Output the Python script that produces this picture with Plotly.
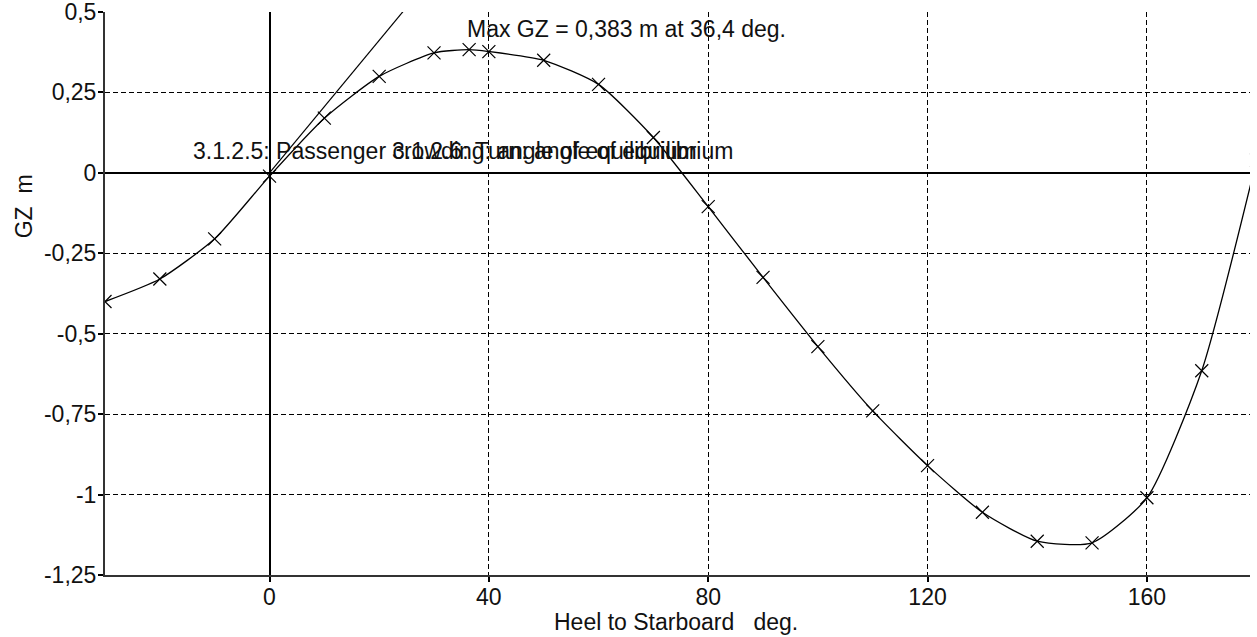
import plotly.graph_objects as go

# GZ righting-lever curve, heel to starboard
heel = [-30, -20, -10, 0, 10, 20, 30, 36.4, 40, 50, 60, 70, 80, 90, 100,
        110, 120, 130, 140, 150, 160, 170, 180]
gz = [-0.40, -0.33, -0.205, -0.01, 0.17, 0.30, 0.373, 0.383, 0.377, 0.35,
      0.275, 0.11, -0.105, -0.325, -0.54, -0.74, -0.91, -1.055, -1.145,
      -1.15, -1.01, -0.615, 0.04]

# initial GM slope line (GZ = GM * heel_rad)
gm_heel = [0, 57.3]
gm_gz = [0, 1.18]

y_ticks = [0.5, 0.25, 0, -0.25, -0.5, -0.75, -1, -1.25]
y_labels = ["0,5", "0,25", "0", "-0,25", "-0,5", "-0,75", "-1", "-1,25"]
x_ticks = [0, 40, 80, 120, 160]
x_labels = ["0", "40", "80", "120", "160"]

FONT = "Liberation Sans Narrow, Arial Narrow, Liberation Sans, Arial"
FS = 23

fig = go.Figure()
fig.add_trace(go.Scatter(
    x=gm_heel, y=gm_gz, mode="lines",
    line=dict(color="black", width=1.2), hoverinfo="skip"))
fig.add_trace(go.Scatter(
    x=heel, y=gz, mode="lines+markers",
    line=dict(color="black", width=1.3, shape="spline", smoothing=0.6),
    marker=dict(symbol="x-thin", size=13, line=dict(color="black", width=1.2))))

ann_font = dict(family=FONT, size=FS, color="#111111")
fig.add_annotation(x=35.7, y=0.448, text="Max GZ = 0,383 m at 36,4 deg.",
                   showarrow=False, xanchor="left", yanchor="middle", font=ann_font)
fig.add_annotation(x=-14.4, y=0.068, text="3.1.2.5: Passenger crowding: angle of equilibrium",
                   showarrow=False, xanchor="left", yanchor="middle", font=ann_font)
fig.add_annotation(x=22.0, y=0.068, text="3.1.2.6: Turn: angle of equilibrium",
                   showarrow=False, xanchor="left", yanchor="middle", font=ann_font)
fig.add_annotation(xref="paper", yref="paper", x=-0.0707, y=0.655, text="GZ  m",
                   textangle=-90, showarrow=False, xanchor="center", yanchor="middle",
                   font=ann_font)
fig.add_annotation(xref="paper", yref="paper", x=0.499, y=-0.083,
                   text="Heel to Starboard   deg.", showarrow=False,
                   xanchor="center", yanchor="middle", font=ann_font)

axis_common = dict(
    showgrid=True, gridcolor="black", gridwidth=1.4, griddash="5px,3px",
    zeroline=True, zerolinecolor="black", zerolinewidth=1.8,
    showline=True, linecolor="#333333", linewidth=2,
    ticks="outside", ticklen=5, tickcolor="black", tickwidth=1.5,
    ticklabeloverflow="allow", automargin=False, fixedrange=True,
    tickfont=dict(family=FONT, size=FS, color="#111111"),
)

fig.update_layout(
    width=1257, height=637,
    margin=dict(l=105, r=7, t=12, b=62),
    paper_bgcolor="white", plot_bgcolor="white",
    showlegend=False,
    font=dict(family=FONT, size=FS, color="#111111"),
    xaxis=dict(range=[-30, 178.8], tickvals=x_ticks, ticktext=x_labels,
               ticklabelstandoff=-5, **axis_common),
    yaxis=dict(range=[-1.25, 0.5], tickvals=y_ticks, ticktext=y_labels,
               ticklabelstandoff=-3, **axis_common),
)

fig.write_html("out.html")
